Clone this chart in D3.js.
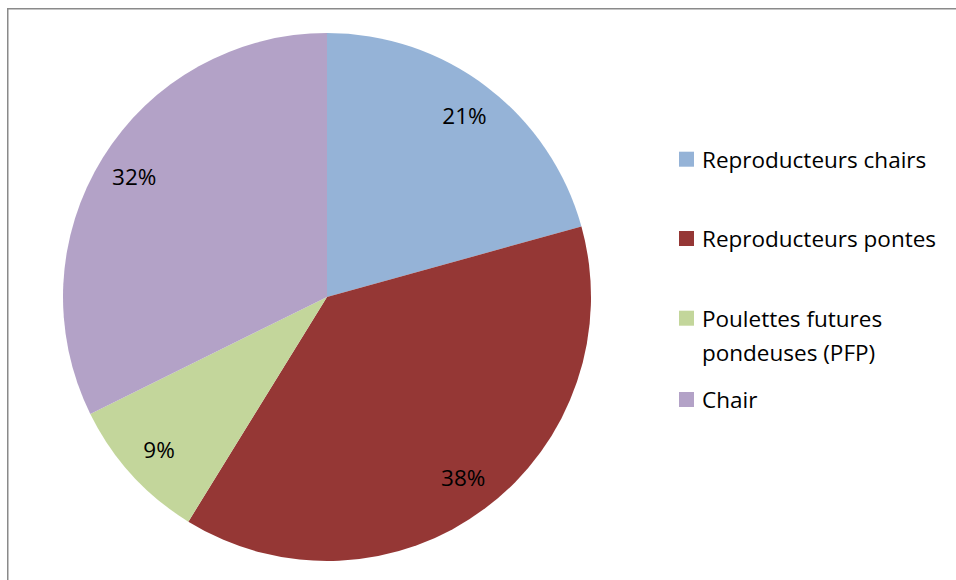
<!DOCTYPE html>
<html>
<head>
<meta charset="utf-8">
<script src="https://cdn.jsdelivr.net/npm/d3@7"></script>
<style>
  html, body { margin: 0; padding: 0; background: #fff; }
</style>
</head>
<body>
<div id="chart"></div>
<script>
// values (share of each slice, in %)
const categories = [
  "Reproducteurs chairs",
  "Reproducteurs pontes",
  "Poulettes futures pondeuses (PFP)",
  "Chair"
];
const values = [20.7, 38.1, 8.9, 32.3];
const legendLines = [
  ["Reproducteurs chairs"],
  ["Reproducteurs pontes"],
  ["Poulettes futures", "pondeuses (PFP)"],
  ["Chair"]
];
const colors = ["#95B3D7", "#953735", "#C3D69B", "#B3A2C7"];

const width = 956;
const height = 580;
const cx = 327, cy = 297, radius = 264;
const font = "'Open Sans', Lato, sans-serif";
const fontSize = 22.5;

const svg = d3.create("svg")
  .attr("width", width)
  .attr("height", height)
  .style("display", "block");

// chart frame (only top and left edges show in the crop)
svg.append("path")
  .attr("d", `M7.75,${height + 5}V8.75H${width + 5}`)
  .attr("fill", "none")
  .attr("stroke", "#8a8a8a")
  .attr("stroke-width", 1.5);

const data = categories.map((c, i) => ({ name: c, value: values[i], color: colors[i] }));

const pie = d3.pie()
  .value(d => d.value)
  .sort(null);

const arc = d3.arc().innerRadius(0).outerRadius(radius);
const labelArc = d3.arc().innerRadius(227).outerRadius(227);

const g = svg.append("g").attr("transform", `translate(${cx},${cy})`);
const arcs = pie(data);

g.selectAll("path")
  .data(arcs)
  .join("path")
  .attr("d", arc)
  .attr("fill", d => d.data.color);

g.selectAll("text")
  .data(arcs)
  .join("text")
  .attr("transform", d => `translate(${labelArc.centroid(d)})`)
  .attr("text-anchor", "middle")
  .attr("dy", "0.35em")
  .attr("font-family", font)
  .attr("font-size", fontSize)
  .attr("fill", "#000")
  .text(d => `${Math.round(d.data.value)}%`);

// legend
const baselines = [167.7, 247, 326.7, 408];
const lineGap = 34.5;
const legend = svg.append("g");
data.forEach((d, i) => {
  const row = legend.append("g");
  row.append("rect")
    .attr("x", 679)
    .attr("y", baselines[i] - 16)
    .attr("width", 15)
    .attr("height", 15)
    .attr("fill", d.color);
  const t = row.append("text")
    .attr("x", 702)
    .attr("y", baselines[i])
    .attr("font-family", font)
    .attr("font-size", fontSize)
    .attr("fill", "#000");
  legendLines[i].forEach((line, j) => {
    t.append("tspan")
      .attr("x", 702)
      .attr("dy", j === 0 ? 0 : lineGap)
      .text(line);
  });
});

document.getElementById("chart").appendChild(svg.node());
</script>
</body>
</html>
